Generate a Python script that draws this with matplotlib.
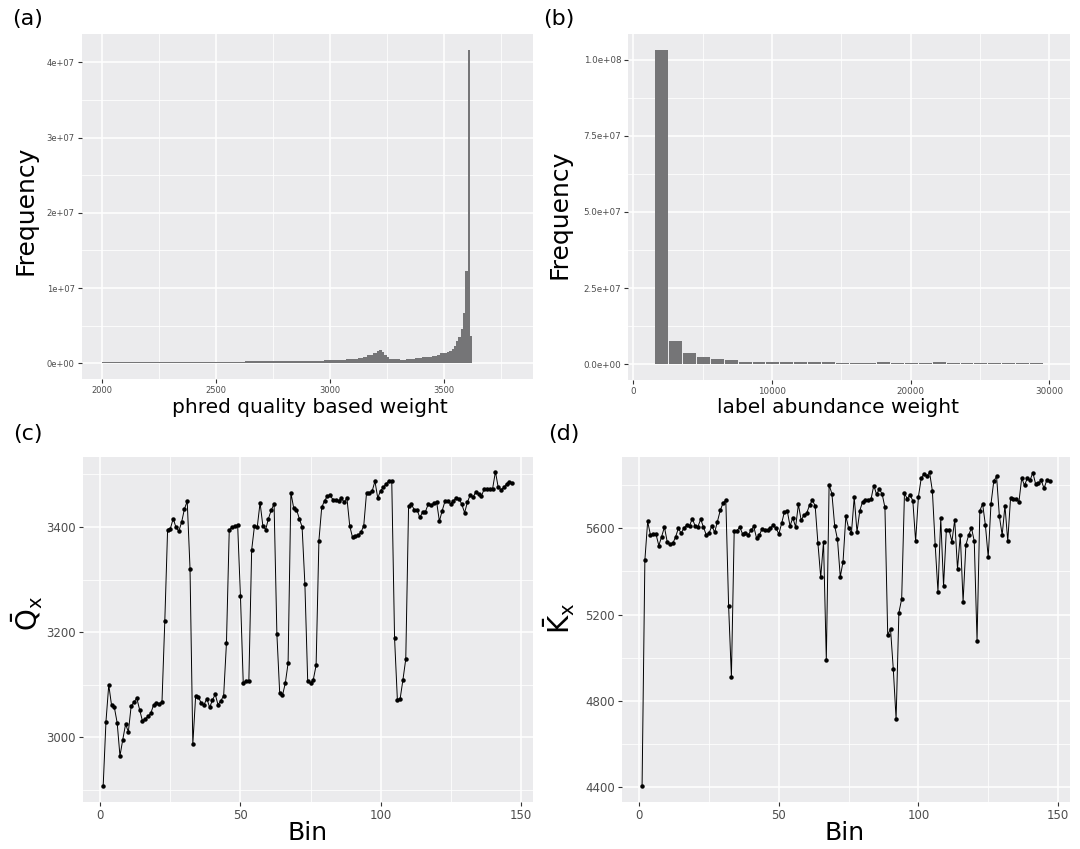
import numpy as np
import matplotlib
matplotlib.use("Agg")
import matplotlib.pyplot as plt
from matplotlib.ticker import FixedLocator, FixedFormatter

# ---------------- data ----------------
# (a) histogram of phred quality based weight: bin edges and counts (millions)
qual_edges = [2000, 2628, 2808, 2975, 3071, 3125, 3147, 3165, 3191, 3206,
              3217, 3228, 3238, 3250, 3260, 3307, 3334, 3374, 3404, 3448,
              3472, 3484, 3503, 3515, 3525, 3535, 3545, 3555, 3565, 3575,
              3585, 3595, 3605, 3615, 3625, 3635]
qual_counts_m = [0.12, 0.27, 0.35, 0.45, 0.58, 0.75, 0.89, 1.06, 1.37, 1.60,
                 1.82, 1.46, 1.15, 0.84, 0.58, 0.44, 0.58, 0.66, 0.84, 0.98,
                 1.15, 1.33, 1.37, 1.45, 1.60, 1.90, 2.35, 2.90, 3.46, 4.52,
                 6.65, 12.28, 41.64, 3.64, 0.08]
qual_xticks = [2000, 2500, 3000, 3500]
qual_yticks = [0, 1e7, 2e7, 3e7, 4e7]
qual_yticklabels = ["0e+00", "1e+07", "2e+07", "3e+07", "4e+07"]

# (b) histogram of label abundance weight: bin centres and counts (millions)
abund_centers = [2060 + 1000 * i for i in range(28)]
abund_counts_m = [103.2, 7.7, 3.8, 2.5, 1.85, 1.5, 0.87, 0.87, 0.87, 0.87,
                  0.87, 0.87, 0.87, 0.55, 0.55, 0.55, 0.87, 0.55, 0.55, 0.55,
                  0.87, 0.55, 0.55, 0.55, 0.55, 0.55, 0.55, 0.55]
abund_xticks = [0, 10000, 20000, 30000]
abund_yticks = [0, 2.5e7, 5e7, 7.5e7, 1e8]
abund_yticklabels = ["0.0e+00", "2.5e+07", "5.0e+07", "7.5e+07", "1.0e+08"]

# (c) mean Q per bin, (d) mean K per bin
bins = list(range(1, 148))
q_bar = [2907, 3030, 3100, 3061, 3057, 3028, 2965, 2996, 3025, 3011,
         3060, 3067, 3075, 3053, 3032, 3035, 3040, 3046, 3062, 3065,
         3064, 3068, 3221, 3395, 3397, 3416, 3399, 3392, 3409, 3434,
         3449, 3321, 2987, 3078, 3077, 3065, 3062, 3074, 3057, 3071,
         3082, 3062, 3070, 3079, 3179, 3394, 3400, 3402, 3404, 3268,
         3103, 3108, 3108, 3356, 3402, 3400, 3446, 3402, 3395, 3416,
         3432, 3444, 3197, 3085, 3080, 3103, 3141, 3465, 3436, 3433,
         3416, 3400, 3291, 3107, 3103, 3110, 3137, 3374, 3437, 3450,
         3458, 3460, 3452, 3451, 3449, 3455, 3447, 3455, 3402, 3380,
         3383, 3384, 3390, 3402, 3465, 3465, 3468, 3487, 3455, 3469,
         3475, 3482, 3488, 3487, 3189, 3072, 3074, 3110, 3149, 3439,
         3443, 3433, 3433, 3418, 3428, 3429, 3443, 3441, 3445, 3448,
         3411, 3431, 3449, 3449, 3444, 3450, 3455, 3454, 3443, 3427,
         3447, 3461, 3456, 3467, 3463, 3459, 3472, 3472, 3472, 3473,
         3505, 3475, 3471, 3475, 3482, 3486, 3484]
k_bar = [4406, 5452, 5632, 5569, 5575, 5572, 5520, 5561, 5606, 5538,
         5527, 5530, 5560, 5600, 5577, 5602, 5615, 5612, 5645, 5611,
         5608, 5642, 5605, 5569, 5577, 5612, 5581, 5631, 5683, 5717,
         5731, 5240, 4911, 5588, 5589, 5606, 5574, 5580, 5568, 5591,
         5609, 5555, 5569, 5597, 5592, 5592, 5603, 5614, 5600, 5574,
         5623, 5677, 5682, 5611, 5649, 5606, 5711, 5637, 5662, 5671,
         5708, 5730, 5705, 5530, 5373, 5538, 4990, 5801, 5761, 5611,
         5549, 5375, 5446, 5657, 5600, 5578, 5744, 5583, 5682, 5724,
         5731, 5731, 5734, 5798, 5758, 5782, 5759, 5697, 5106, 5134,
         4947, 4715, 5209, 5273, 5762, 5737, 5756, 5727, 5540, 5747,
         5832, 5853, 5841, 5859, 5773, 5524, 5305, 5646, 5333, 5591,
         5591, 5538, 5640, 5412, 5569, 5259, 5523, 5569, 5602, 5541,
         5078, 5682, 5713, 5614, 5466, 5714, 5819, 5841, 5656, 5569,
         5705, 5541, 5739, 5737, 5737, 5722, 5833, 5799, 5832, 5824,
         5858, 5804, 5809, 5822, 5785, 5824, 5821]
bin_xticks = [0, 50, 100, 150]
q_yticks = [3000, 3200, 3400]
k_yticks = [4400, 4800, 5200, 5600]

# ---------------- figure ----------------
W, H = 1080, 849
fig = plt.figure(figsize=(W / 100, H / 100), dpi=100)
fig.patch.set_facecolor("white")

BAR = "#757577"
BG = "#EBEBED"


def add_ax(left, right, top, bottom):
    return fig.add_axes([left / W, 1 - bottom / H, (right - left) / W, (bottom - top) / H])


def style(ax, tick_fs):
    ax.set_facecolor(BG)
    for s in ax.spines.values():
        s.set_visible(False)
    ax.set_axisbelow(True)
    ax.grid(which="major", color="white", lw=1.1)
    ax.grid(which="minor", color="white", lw=0.55)
    ax.tick_params(which="major", length=3, width=0.8, color="#333333",
                   labelcolor="#4D4D4D", labelsize=tick_fs, pad=2)
    ax.tick_params(which="minor", length=0)


def ftext(x, y, s, **kw):
    fig.text(x / W, 1 - y / H, s, **kw)


# (a)
axa = add_ax(81.7, 533.3, 34, 379.3)
style(axa, 6)
axa.stairs(np.array(qual_counts_m) * 1e6, qual_edges, fill=True, color=BAR, lw=0)
axa.set_xlim(1910, 3894)
axa.set_ylim(-2.13e6, 4.377e7)
axa.xaxis.set_major_locator(FixedLocator(qual_xticks))
axa.xaxis.set_minor_locator(FixedLocator([2250, 2750, 3250, 3750]))
axa.yaxis.set_major_locator(FixedLocator(qual_yticks))
axa.yaxis.set_major_formatter(FixedFormatter(qual_yticklabels))
axa.yaxis.set_minor_locator(FixedLocator([0.5e7, 1.5e7, 2.5e7, 3.5e7]))

# (b)
axb = add_ax(628.3, 1070, 34, 380)
style(axb, 6.3)
axb.bar(abund_centers, np.array(abund_counts_m) * 1e6, width=930, color=BAR,
        linewidth=0)
axb.set_xlim(-360, 31485)
axb.set_ylim(-5.16e6, 1.084e8)
axb.xaxis.set_major_locator(FixedLocator(abund_xticks))
axb.xaxis.set_minor_locator(FixedLocator([5000, 15000, 25000]))
axb.yaxis.set_major_locator(FixedLocator(abund_yticks))
axb.yaxis.set_major_formatter(FixedFormatter(abund_yticklabels))
axb.yaxis.set_minor_locator(FixedLocator([1.25e7, 3.75e7, 6.25e7, 8.75e7]))

# (c)
axc = add_ax(82.7, 532.7, 456.7, 801.7)
style(axc, 8.5)
axc.plot(bins, q_bar, color="black", lw=0.7, marker="o", ms=2.2)
axc.set_xlim(-6.3, 154.3)
axc.set_ylim(2878, 3533.5)
axc.xaxis.set_major_locator(FixedLocator(bin_xticks))
axc.xaxis.set_minor_locator(FixedLocator([25, 75, 125]))
axc.yaxis.set_major_locator(FixedLocator(q_yticks))
axc.yaxis.set_minor_locator(FixedLocator([2900, 3100, 3300, 3500]))

# (d)
axd = add_ax(621.7, 1070, 456.7, 801.7)
style(axd, 8.5)
axd.plot(bins, k_bar, color="black", lw=0.7, marker="o", ms=2.2)
axd.set_xlim(-6.3, 154.3)
axd.set_ylim(4333, 5932)
axd.xaxis.set_major_locator(FixedLocator(bin_xticks))
axd.xaxis.set_minor_locator(FixedLocator([25, 75, 125]))
axd.yaxis.set_major_locator(FixedLocator(k_yticks))
axd.yaxis.set_minor_locator(FixedLocator([4600, 5000, 5400, 5800]))

# titles / labels
lab = dict(color="black", ha="center", va="center")
ftext(28, 19, "(a)", fontsize=16, **lab)
ftext(559, 19, "(b)", fontsize=16, **lab)
ftext(28, 434, "(c)", fontsize=16, **lab)
ftext(564, 434, "(d)", fontsize=16, **lab)

ftext(25, 210, "Frequency", fontsize=18, rotation=90, **lab)
ftext(559, 214, "Frequency", fontsize=18, rotation=90, **lab)
ftext(310, 407, "phred quality based weight", fontsize=14.5, **lab)
ftext(838, 407, "label abundance weight", fontsize=14.5, **lab)
ftext(308, 833, "Bin", fontsize=18, **lab)
ftext(845, 833, "Bin", fontsize=18, **lab)
ftext(27, 613, r"$\bar{\mathrm{Q}}_{\mathrm{x}}$", fontsize=20, rotation=90, **lab)
ftext(559, 618, r"$\bar{\mathrm{K}}_{\mathrm{x}}$", fontsize=20, rotation=90, **lab)

fig.savefig("out.png", dpi=100, facecolor="white")
